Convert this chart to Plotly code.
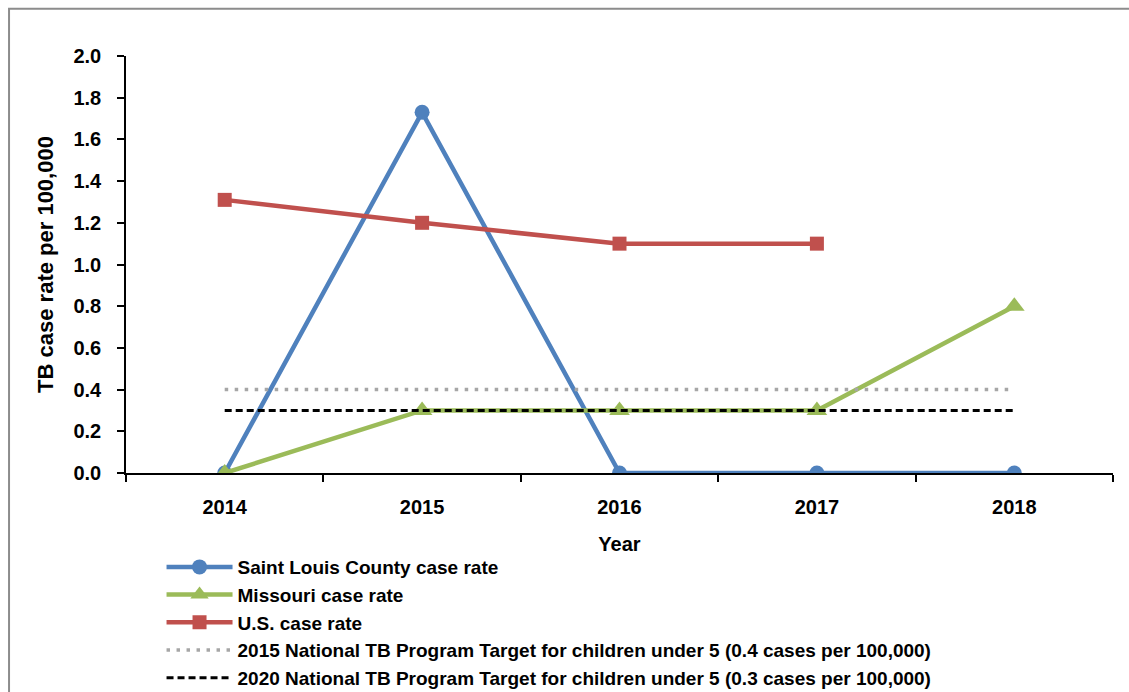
import plotly.graph_objects as go

years = ["2014", "2015", "2016", "2017", "2018"]
st_louis = [0.0, 1.73, 0.0, 0.0, 0.0]
missouri = [0.0, 0.3, 0.3, 0.3, 0.8]
us_rate = [1.31, 1.2, 1.1, 1.1, None]
target_2015 = [0.4, 0.4, 0.4, 0.4, 0.4]
target_2020 = [0.3, 0.3, 0.3, 0.3, 0.3]
y_ticks = [0.0, 0.2, 0.4, 0.6, 0.8, 1.0, 1.2, 1.4, 1.6, 1.8, 2.0]

FONT = "Liberation Sans"
fig = go.Figure()

fig.add_trace(go.Scatter(
    x=years, y=st_louis, mode="lines+markers", name="Saint Louis County case rate",
    line=dict(color="#4F81BD", width=4.5),
    marker=dict(symbol="circle", size=15, color="#4F81BD"),
))
fig.add_trace(go.Scatter(
    x=years, y=missouri, mode="lines+markers", name="Missouri case rate",
    line=dict(color="#9BBB59", width=4.5),
    marker=dict(symbol="triangle-up", size=18, color="#9BBB59"),
))
fig.add_trace(go.Scatter(
    x=years, y=us_rate, mode="lines+markers", name="U.S. case rate",
    line=dict(color="#C0504D", width=4.5),
    marker=dict(symbol="square", size=14, color="#C0504D"),
))
fig.add_trace(go.Scatter(
    x=years, y=target_2015, mode="lines",
    name="2015 National TB Program Target for children under 5 (0.4 cases per 100,000)",
    line=dict(color="#A6A6A6", width=3.5, dash="3.5px,6.5px"),
))
fig.add_trace(go.Scatter(
    x=years, y=target_2020, mode="lines",
    name="2020 National TB Program Target for children under 5 (0.3 cases per 100,000)",
    line=dict(color="#000000", width=3, dash="7px,4px"),
))

fig.update_layout(
    width=1129, height=692,
    margin=dict(l=126, r=16, t=56, b=219, autoexpand=False),
    paper_bgcolor="white", plot_bgcolor="white",
    font=dict(family=FONT, size=20, color="black"),
    showlegend=True,
    legend=dict(
        x=0.036, y=-0.18, xanchor="left", yanchor="top",
        font=dict(family=FONT, size=19, color="black", weight="bold"),
        itemwidth=66, tracegroupgap=0, bgcolor="rgba(0,0,0,0)",
    ),
    xaxis=dict(
        type="category", range=[-0.5, 4.5],
        showline=True, linecolor="black", linewidth=1.5,
        ticks="outside", ticklen=7, tickcolor="black", tickwidth=1.5,
        tickson="boundaries", showgrid=False, zeroline=False,
        ticklabelstandoff=15,
        tickfont=dict(family=FONT, size=20, weight="bold"),
        title=dict(text="<b>Year</b>", font=dict(family=FONT, size=20), standoff=20),
    ),
    yaxis=dict(
        range=[0, 2.0], tickvals=y_ticks, ticktext=[f"{v:.1f}" for v in y_ticks],
        showline=True, linecolor="black", linewidth=1.5,
        ticks="outside", ticklen=7, tickcolor="black", tickwidth=1.5,
        showgrid=False, zeroline=False,
        ticklabelstandoff=12,
        tickfont=dict(family=FONT, size=20, weight="bold"),
        title=dict(text="<b>TB case rate per 100,000</b>", font=dict(family=FONT, size=22), standoff=14),
    ),
    shapes=[dict(
        type="rect", xref="paper", yref="paper",
        x0=-0.1185, x1=1.03, y0=-0.6, y1=1.1135,
        line=dict(color="#8C8C8C", width=2), fillcolor="rgba(0,0,0,0)", layer="below",
    )],
)

fig.write_html("out.html")
